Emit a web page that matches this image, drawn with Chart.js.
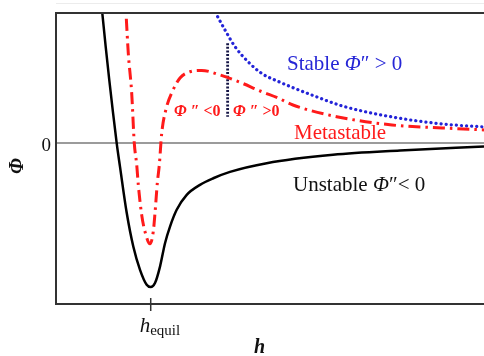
<!DOCTYPE html>
<html>
<head>
<meta charset="utf-8">
<script src="https://cdn.jsdelivr.net/npm/chart.js@4"></script>
<style>
  html, body { margin: 0; padding: 0; background: #fff; }
  #wrap { width: 484px; height: 356px; }
</style>
</head>
<body>
<div id="wrap"><canvas id="chart"></canvas></div>
<script>
// film thickness h (arbitrary units) and potential Phi (arbitrary units)
const unstableH   = [0.993, 1.082, 1.418, 1.495, 1.652, 1.806, 1.963, 2.119, 2.213, 2.313, 2.430, 2.547, 2.664, 2.820, 3.054, 3.364, 3.675, 4.065, 4.923, 6.472, 8.037, 10.0];
const unstablePhi = [1.331, 0.998, -0.002, -0.182, -0.538, -0.798, -0.977, -1.092, -1.110, -1.079, -0.952, -0.772, -0.644, -0.515, -0.400, -0.323, -0.272, -0.223, -0.156, -0.092, -0.059, -0.028];

const metaH   = [1.577, 1.636, 1.689, 1.769, 1.829, 1.886, 1.923, 2.002, 2.079, 2.196, 2.273, 2.313, 2.367, 2.414, 2.470, 2.586, 2.717, 2.897, 3.131, 3.404, 3.832, 4.259, 4.806, 5.187, 5.537, 6.558, 7.850, 9.019, 10.0];
const metaPhi = [1.331, 0.998, 0.690, 0.382, -0.002, -0.169, -0.323, -0.554, -0.682, -0.777, -0.682, -0.541, -0.310, -0.169, 0.075, 0.279, 0.395, 0.500, 0.548, 0.558, 0.523, 0.472, 0.395, 0.346, 0.292, 0.202, 0.138, 0.115, 0.100];

const stableH   = [3.388, 3.755, 3.949, 4.182, 4.493, 4.806, 5.194, 5.584, 5.974, 6.682, 7.850, 9.019, 10.0];
const stablePhi = [1.215, 0.985, 0.869, 0.741, 0.623, 0.535, 0.473, 0.419, 0.369, 0.285, 0.200, 0.146, 0.123];

// boundary between Phi''<0 and Phi''>0 on the metastable curve
const splitH = 4.01;
const splitPhi = [0.767, 0.202];

const hEquil = 2.213;
const xRange = [0, 10];
const yRange = [-1.24, 1.0];

function pts(xs, ys) {
    return xs.map((x, i) => ({ x: x, y: ys[i] }));
}

const serif = '"Liberation Serif", "Times New Roman", serif';

// draws a line of text made of pieces with different fonts
function drawRuns(ctx, x, y, runs) {
    let cx = x;
    runs.forEach(r => {
        ctx.font = r.font;
        ctx.fillStyle = r.color;
        ctx.fillText(r.t, cx, y + (r.dy || 0));
        cx += ctx.measureText(r.t).width;
    });
}

const decorations = {
    id: 'decorations',
    beforeDatasetsDraw(chart) {
        const { ctx, chartArea: a, scales: { y } } = chart;
        const y0 = y.getPixelForValue(0);
        ctx.save();
        ctx.strokeStyle = '#7a7a7a';
        ctx.lineWidth = 1.5;
        ctx.beginPath();
        ctx.moveTo(a.left, y0);
        ctx.lineTo(a.right, y0);
        ctx.stroke();
        // faint line above the frame
        ctx.strokeStyle = '#ececec';
        ctx.lineWidth = 1;
        ctx.beginPath();
        ctx.moveTo(a.left, 3.5);
        ctx.lineTo(a.right, 3.5);
        ctx.stroke();
        ctx.restore();
    },
    afterDatasetsDraw(chart) {
        const { ctx, chartArea: a, scales: { x, y } } = chart;
        ctx.save();
        // frame (left, top, bottom)
        ctx.strokeStyle = '#333';
        ctx.lineWidth = 2;
        ctx.beginPath();
        ctx.moveTo(a.right, a.top);
        ctx.lineTo(a.left, a.top);
        ctx.lineTo(a.left, a.bottom);
        ctx.lineTo(a.right, a.bottom);
        ctx.stroke();

        // h_equil tick
        const xe = x.getPixelForValue(hEquil);
        ctx.lineWidth = 1.5;
        ctx.beginPath();
        ctx.moveTo(xe, a.bottom - 6);
        ctx.lineTo(xe, a.bottom + 7);
        ctx.stroke();

        ctx.textBaseline = 'alphabetic';
        // y tick "0"
        ctx.textAlign = 'right';
        ctx.font = '19px ' + serif;
        ctx.fillStyle = '#111';
        ctx.fillText('0', 51, y.getPixelForValue(0) + 8);

        // axis title Phi (rotated)
        ctx.save();
        ctx.translate(23, 166);
        ctx.rotate(-Math.PI / 2);
        ctx.textAlign = 'center';
        ctx.font = 'italic bold 20px ' + serif;
        ctx.fillText('Φ', 0, 0);
        ctx.restore();

        ctx.textAlign = 'left';
        // h_equil label
        drawRuns(ctx, xe - 11, 332, [
            { t: 'h', font: 'italic 21px ' + serif, color: '#111' },
            { t: 'equil', font: '15px ' + serif, color: '#111', dy: 3 }
        ]);
        // x axis title
        ctx.font = 'italic bold 20px ' + serif;
        ctx.fillText('h', 254, 353);

        // curve labels
        drawRuns(ctx, 287, 70, [
            { t: 'Stable ', font: '21px ' + serif, color: '#2626d6' },
            { t: 'Φ', font: 'italic 21px ' + serif, color: '#2626d6' },
            { t: '″ > 0', font: '21px ' + serif, color: '#2626d6' }
        ]);
        drawRuns(ctx, 294, 139, [
            { t: 'Metastable', font: '21px ' + serif, color: '#ff1a1a' }
        ]);
        drawRuns(ctx, 293, 191, [
            { t: 'Unstable ', font: '21px ' + serif, color: '#111' },
            { t: 'Φ', font: 'italic 21px ' + serif, color: '#111' },
            { t: '″< 0', font: '21px ' + serif, color: '#111' }
        ]);
        drawRuns(ctx, 174, 116, [
            { t: 'Φ', font: 'italic bold 16px ' + serif, color: '#ff1a1a' },
            { t: ' ″ <0', font: 'bold 16px ' + serif, color: '#ff1a1a' }
        ]);
        drawRuns(ctx, 233, 116, [
            { t: 'Φ', font: 'italic bold 16px ' + serif, color: '#ff1a1a' },
            { t: ' ″ >0', font: 'bold 16px ' + serif, color: '#ff1a1a' }
        ]);
        ctx.restore();
    }
};

new Chart(document.getElementById('chart'), {
    type: 'line',
    data: {
        datasets: [
            {
                label: 'Unstable',
                data: pts(unstableH, unstablePhi),
                borderColor: '#000',
                borderWidth: 2.5,
                cubicInterpolationMode: 'monotone',
                clip: 0
            },
            {
                label: 'Metastable',
                data: pts(metaH, metaPhi),
                borderColor: '#ff1a1a',
                borderWidth: 3,
                borderDash: [12, 5, 2.5, 5],
                cubicInterpolationMode: 'monotone',
                clip: 0
            },
            {
                label: 'Stable',
                data: pts(stableH, stablePhi),
                borderColor: '#2424d8',
                borderWidth: 3.2,
                borderDash: [0.1, 5],
                borderCapStyle: 'round',
                cubicInterpolationMode: 'monotone',
                clip: 0
            },
            {
                label: 'split',
                data: pts([splitH, splitH], splitPhi),
                borderColor: '#141445',
                borderWidth: 2.8,
                borderDash: [2, 1.6],
                clip: 0
            }
        ]
    },
    options: {
        responsive: true,
        maintainAspectRatio: false,
        animation: false,
        layout: { padding: { left: 56, top: 13, right: 0, bottom: 52 } },
        elements: { point: { radius: 0 } },
        scales: {
            x: { type: 'linear', display: false, min: xRange[0], max: xRange[1] },
            y: { type: 'linear', display: false, min: yRange[0], max: yRange[1] }
        },
        plugins: {
            legend: { display: false },
            tooltip: { enabled: false }
        }
    },
    plugins: [decorations]
});
</script>
</body>
</html>
